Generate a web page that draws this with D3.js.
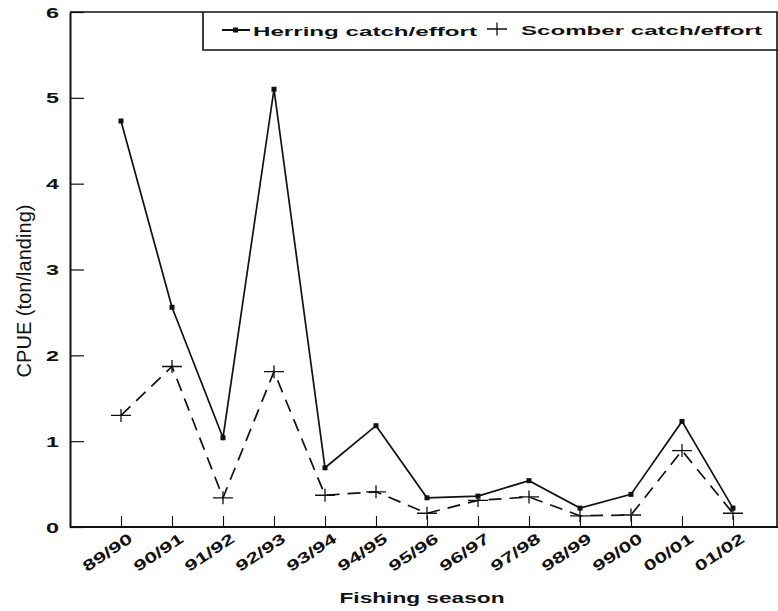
<!DOCTYPE html>
<html>
<head>
<meta charset="utf-8">
<script src="https://cdn.jsdelivr.net/npm/d3@7"></script>
<style>
  html, body { margin: 0; padding: 0; background: #fff; }
  svg { display: block; }
  text { font-family: "Liberation Sans", Arial, sans-serif; fill: #111; }
</style>
</head>
<body>
<svg id="chart" width="778" height="611"></svg>
<script>
// Fishing seasons on the x axis
const seasons = ["89/90", "90/91", "91/92", "92/93", "93/94", "94/95", "95/96",
                 "96/97", "97/98", "98/99", "99/00", "00/01", "01/02"];
// CPUE (ton/landing) per season
const herring = [4.73, 2.56, 1.04, 5.10, 0.69, 1.18, 0.34, 0.36, 0.54, 0.22, 0.38, 1.23, 0.22];
const scomber = [1.30, 1.87, 0.34, 1.81, 0.37, 0.41, 0.16, 0.31, 0.35, 0.13, 0.14, 0.89, 0.16];
const yTicks = [0, 1, 2, 3, 4, 5, 6];
const seriesNames = ["Herring catch/effort", "Scomber catch/effort"];

const svg = d3.select("#chart");
const plotLeft = 70, plotRight = 777, plotTop = 12, plotBottom = 527;

const x = d3.scalePoint().domain(seasons).range([plotLeft, plotLeft + 714]).padding(1);
const y = d3.scaleLinear().domain([0, 6]).range([plotBottom, plotTop]);

const ink = "#111";

// Frame (top and right edges)
svg.append("path")
  .attr("d", `M${plotLeft},${plotTop}H${plotRight}V${plotBottom}`)
  .attr("fill", "none").attr("stroke", ink).attr("stroke-width", 1.6);

// Y axis with inward ticks
const yAxis = svg.append("g")
  .attr("transform", `translate(${plotLeft},0)`)
  .call(d3.axisLeft(y).tickValues(yTicks).tickFormat(d3.format("d"))
        .tickSizeInner(-14).tickSizeOuter(0).tickPadding(11));
yAxis.select(".domain").attr("stroke", ink).attr("stroke-width", 2);
yAxis.selectAll(".tick line").attr("stroke", ink).attr("stroke-width", 1.2);
yAxis.selectAll(".tick text")
  .attr("font-size", 14).attr("font-weight", "bold").attr("fill", ink)
  .attr("textLength", 13).attr("lengthAdjust", "spacingAndGlyphs")
  .attr("dy", "0.36em");

// X axis with inward ticks and slanted season labels
const xAxis = svg.append("g")
  .attr("transform", `translate(0,${plotBottom})`)
  .call(d3.axisBottom(x).tickSizeInner(-11).tickSizeOuter(0).tickPadding(0));
xAxis.select(".domain").attr("d", `M${plotLeft},0H778`).attr("stroke", ink).attr("stroke-width", 2.2);
xAxis.selectAll(".tick line").attr("stroke", ink).attr("stroke-width", 1.1);
xAxis.selectAll(".tick text")
  .attr("font-size", 15).attr("font-weight", "bold").attr("fill", ink)
  .attr("text-anchor", "end")
  .attr("textLength", 56).attr("lengthAdjust", "spacingAndGlyphs")
  .attr("y", 0).attr("dy", 0)
  .attr("transform", "translate(12,14) rotate(-34)");

// Axis titles
svg.append("text")
  .attr("x", 422).attr("y", 603)
  .attr("text-anchor", "middle")
  .attr("font-size", 15).attr("font-weight", "bold")
  .attr("textLength", 165).attr("lengthAdjust", "spacingAndGlyphs")
  .text("Fishing season");

svg.append("text")
  .attr("transform", "translate(31,291) rotate(-90) scale(1,1.3)")
  .attr("text-anchor", "middle")
  .attr("font-size", 15)
  .attr("textLength", 173).attr("lengthAdjust", "spacingAndGlyphs")
  .text("CPUE (ton/landing)");

// Series lines
const line = d3.line().x((d, i) => x(seasons[i])).y(d => y(d));

svg.append("path").datum(scomber)
  .attr("d", line).attr("fill", "none")
  .attr("stroke", ink).attr("stroke-width", 1.7)
  .attr("stroke-dasharray", "13,8");

svg.append("path").datum(herring)
  .attr("d", line).attr("fill", "none")
  .attr("stroke", ink).attr("stroke-width", 1.7);

// Markers: small squares for herring, crosses for scomber
const crossPath = (cx, cy) => `M${cx - 10},${cy}H${cx + 10}M${cx},${cy - 6.5}V${cy + 6.5}`;

svg.append("g").selectAll("path").data(scomber).join("path")
  .attr("d", (d, i) => crossPath(x(seasons[i]), y(d)))
  .attr("fill", "none").attr("stroke", ink).attr("stroke-width", 1.3);

svg.append("g").selectAll("rect").data(herring).join("rect")
  .attr("x", (d, i) => x(seasons[i]) - 2.5).attr("y", d => y(d) - 2.5)
  .attr("width", 5).attr("height", 5).attr("fill", ink);

// Legend box
const legend = svg.append("g");
legend.append("path")
  .attr("d", `M${plotRight},50H203V${plotTop}`)
  .attr("fill", "none").attr("stroke", ink).attr("stroke-width", 1.6);

legend.append("line")
  .attr("x1", 222).attr("x2", 250).attr("y1", 30).attr("y2", 30)
  .attr("stroke", ink).attr("stroke-width", 2);
legend.append("rect")
  .attr("x", 233).attr("y", 27.5).attr("width", 5).attr("height", 5).attr("fill", ink);
legend.append("text")
  .attr("x", 253).attr("y", 36)
  .attr("font-size", 13).attr("font-weight", "bold")
  .attr("textLength", 224).attr("lengthAdjust", "spacingAndGlyphs")
  .text(seriesNames[0]);

legend.append("path")
  .attr("d", crossPath(497, 29))
  .attr("fill", "none").attr("stroke", ink).attr("stroke-width", 1.3);
legend.append("text")
  .attr("x", 521).attr("y", 35)
  .attr("font-size", 13).attr("font-weight", "bold")
  .attr("textLength", 241).attr("lengthAdjust", "spacingAndGlyphs")
  .text(seriesNames[1]);
</script>
</body>
</html>
